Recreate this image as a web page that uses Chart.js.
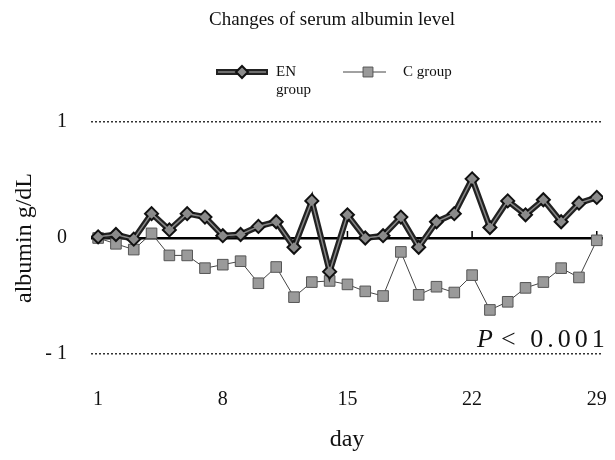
<!DOCTYPE html>
<html>
<head>
<meta charset="utf-8">
<script src="https://cdn.jsdelivr.net/npm/chart.js@4/dist/chart.umd.min.js"></script>
<style>
  html, body { margin: 0; padding: 0; background: #fff; }
</style>
</head>
<body>
<canvas id="chart" width="615" height="460"></canvas>
<script>
// data
const days = [1, 2, 3, 4, 5, 6, 7, 8, 9, 10, 11, 12, 13, 14, 15, 16, 17, 18, 19, 20, 21, 22, 23, 24, 25, 26, 27, 28, 29];
const enGroup = [0.01, 0.03, -0.01, 0.21, 0.07, 0.21, 0.18, 0.02, 0.03, 0.10, 0.14, -0.08, 0.32, -0.29, 0.20,
                 0.00, 0.02, 0.18, -0.08, 0.14, 0.21, 0.51, 0.09, 0.32, 0.20, 0.33, 0.14, 0.30, 0.35];
const cGroup = [0.00, -0.05, -0.10, 0.04, -0.15, -0.15, -0.26, -0.23, -0.20, -0.39, -0.25, -0.51, -0.38, -0.37, -0.40,
                -0.46, -0.50, -0.12, -0.49, -0.42, -0.47, -0.32, -0.62, -0.55, -0.43, -0.38, -0.26, -0.34, -0.02];
const dayTicks = [1, 8, 15, 22, 29];
const albTicks = [-1, 0, 1];

const chartTitle = 'Changes of serum albumin level';
const serif = '"Liberation Serif", "Times New Roman", serif';

// title, legend and p-value drawn by hand so "EN group" can wrap like the original
const handLegend = {
  id: 'handLegend',
  beforeDatasetsDraw(chart) {
    const { ctx, scales: { x, y } } = chart;
    const y0 = y.getPixelForValue(0);
    ctx.save();
    ctx.strokeStyle = '#000';
    ctx.lineWidth = 1.5;
    dayTicks.forEach(d => {
      const px = x.getPixelForValue(d);
      ctx.beginPath();
      ctx.moveTo(px, y0);
      ctx.lineTo(px, y0 - 7);
      ctx.stroke();
    });
    ctx.restore();
  },
  afterDraw(chart) {
    const ctx = chart.ctx;
    const en = chart.data.datasets[0];
    const c = chart.data.datasets[1];
    ctx.save();

    ctx.fillStyle = '#111';
    ctx.font = '19px ' + serif;
    ctx.textAlign = 'center';
    ctx.textBaseline = 'middle';
    ctx.fillText(chartTitle, 332, 20);
    ctx.textAlign = 'left';

    // EN group swatch
    ctx.strokeStyle = en.borderColor;
    ctx.lineWidth = en.borderWidth;
    ctx.beginPath(); ctx.moveTo(216, 72); ctx.lineTo(268, 72); ctx.stroke();
    ctx.strokeStyle = '#888'; ctx.lineWidth = 1.5;
    ctx.beginPath(); ctx.moveTo(218, 72); ctx.lineTo(266, 72); ctx.stroke();
    ctx.fillStyle = en.pointBackgroundColor;
    ctx.strokeStyle = en.pointBorderColor;
    ctx.lineWidth = en.pointBorderWidth;
    Chart.helpers.drawPoint(ctx, { pointStyle: 'rectRot', radius: 6, borderWidth: 2 }, 242, 72);

    // C group swatch
    ctx.strokeStyle = c.borderColor;
    ctx.lineWidth = c.borderWidth;
    ctx.beginPath(); ctx.moveTo(343, 72); ctx.lineTo(386, 72); ctx.stroke();
    ctx.fillStyle = c.pointBackgroundColor;
    ctx.strokeStyle = c.pointBorderColor;
    ctx.lineWidth = c.pointBorderWidth;
    Chart.helpers.drawPoint(ctx, { pointStyle: 'rect', radius: 7, borderWidth: 1 }, 368, 72);

    ctx.fillStyle = '#111';
    ctx.font = '15px ' + serif;
    const enWords = en.label.split(' ');
    ctx.fillText(enWords[0], 276, 72);
    ctx.fillText(enWords[1], 276, 90);
    ctx.fillText(c.label, 403, 72);

    // significance note
    ctx.textBaseline = 'alphabetic';
    ctx.font = 'italic 26px ' + serif;
    ctx.fillText('P', 477, 347);
    ctx.font = '26px ' + serif;
    ctx.letterSpacing = '4px';
    ctx.fillText('< 0.001', 501, 347);
    ctx.restore();
  }
};

new Chart(document.getElementById('chart'), {
  type: 'line',
  data: {
    labels: days,
    datasets: [
      {
        label: 'EN group',
        data: enGroup,
        borderColor: '#222',
        borderWidth: 6,
        pointStyle: 'rectRot',
        pointRadius: 6.5,
        pointBackgroundColor: '#8c8c8c',
        pointBorderColor: '#111',
        pointBorderWidth: 2,
        tension: 0,
        order: 1
      },
      {
        label: 'C group',
        data: cGroup,
        borderColor: '#444',
        borderWidth: 1,
        pointStyle: 'rect',
        pointRadius: 7.5,
        pointBackgroundColor: '#9a9a9a',
        pointBorderColor: '#555',
        pointBorderWidth: 1,
        tension: 0,
        order: 2
      },
      {
        // grey core of the thick EN line
        label: 'EN core',
        data: enGroup,
        borderColor: '#888',
        borderWidth: 1.5,
        pointRadius: 0,
        tension: 0,
        order: 0
      }
    ]
  },
  options: {
    responsive: false,
    animation: false,
    layout: { padding: { left: 0, right: 12, top: 122, bottom: 0 } },
    plugins: {
      legend: { display: false },
      tooltip: { enabled: false }
    },
    scales: {
      x: {
        type: 'linear',
        min: 0.6,
        max: 29.35,
        afterBuildTicks: axis => { axis.ticks = dayTicks.map(v => ({ value: v })); },
        afterFit: axis => {
          axis.height = 106;
          axis.paddingLeft = 0;
          axis.paddingRight = 0;
        },
        grid: { display: false },
        border: { display: false },
        ticks: {
          autoSkip: false,
          maxRotation: 0,
          padding: 26,
          color: '#111',
          font: { family: serif, size: 20 }
        },
        title: {
          display: true,
          text: 'day',
          color: '#111',
          font: { family: serif, size: 24 },
          padding: { top: 0, bottom: 6 }
        }
      },
      y: {
        min: -1,
        max: 1,
        afterBuildTicks: axis => { axis.ticks = albTicks.map(v => ({ value: v })); },
        afterFit: axis => {
          axis.width = 91;
          axis.paddingTop = 0;
          axis.paddingBottom = 0;
        },
        grid: {
          drawTicks: false,
          color: ctx => ctx.tick && ctx.tick.value === 0 ? '#000' : '#333',
          lineWidth: ctx => ctx.tick && ctx.tick.value === 0 ? 2.5 : 1.5
        },
        border: {
          display: false,
          dash: ctx => ctx.tick && ctx.tick.value === 0 ? [] : [2, 2]
        },
        ticks: {
          padding: 24,
          color: '#111',
          font: { family: serif, size: 20 },
          callback: v => v < 0 ? '- ' + Math.abs(v) : String(v)
        },
        title: {
          display: true,
          text: 'albumin g/dL',
          color: '#111',
          font: { family: serif, size: 24 },
          padding: { top: 10, bottom: 0 }
        }
      }
    }
  },
  plugins: [handLegend]
});
</script>
</body>
</html>
